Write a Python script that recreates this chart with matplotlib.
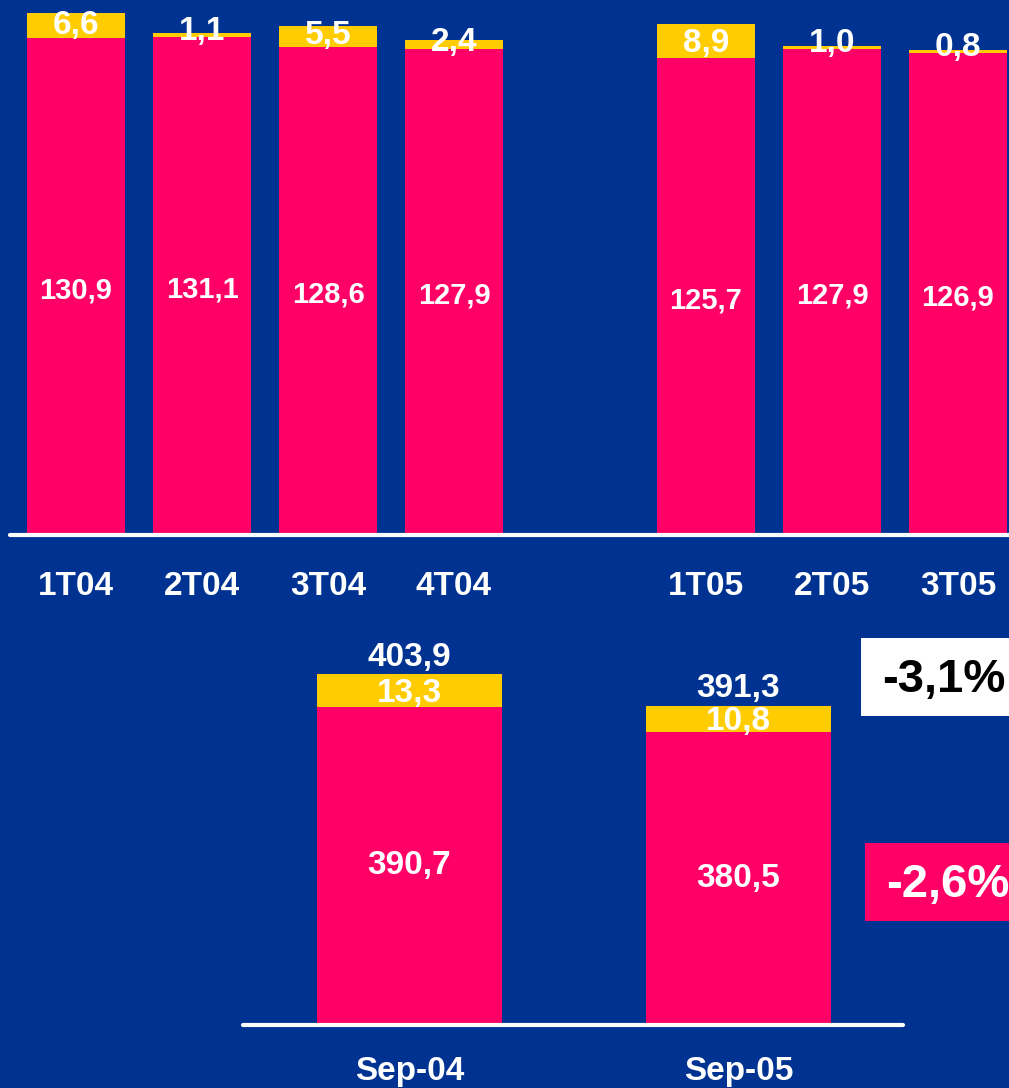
import matplotlib
matplotlib.use("Agg")
import matplotlib.pyplot as plt
from matplotlib.patches import Rectangle
import numpy as np

# ---- data ----
quarters = ["1T04", "2T04", "3T04", "4T04", "1T05", "2T05", "3T05"]
q_pink = [130.9, 131.1, 128.6, 127.9, 125.7, 127.9, 126.9]
q_yellow = [6.6, 1.1, 5.5, 2.4, 8.9, 1.0, 0.8]

periods = ["Sep-04", "Sep-05"]
p_pink = [390.7, 380.5]
p_yellow = [13.3, 10.8]
p_total = [403.9, 391.3]

BG = "#003391"
PINK = "#FF0066"
YELLOW = "#FFCC00"
FONT = "Liberation Sans"

W, H = 1009, 1088
fig = plt.figure(figsize=(W / 100, H / 100), dpi=100, facecolor=BG)

def fmt(v):
    return f"{v:.1f}".replace(".", ",")

def px_axes(left, top, right, bottom):
    return fig.add_axes([left / W, 1 - bottom / H, (right - left) / W, (bottom - top) / H])

# ---- top chart ----
ax1 = px_axes(10, 0, 1009, 535)
ax1.set_facecolor(BG)
pos1 = np.array([0, 1, 2, 3, 5, 6, 7])
ax1.bar(pos1, q_pink, width=0.78, color=PINK, linewidth=0)
ax1.bar(pos1, q_yellow, bottom=q_pink, width=0.78, color=YELLOW, linewidth=0)
ax1.set_xlim(-0.524, 7.405)
ax1.set_ylim(0, 535 / 3.797)
for x, p, y in zip(pos1, q_pink, q_yellow):
    ax1.text(x, p / 2 - 1.0, fmt(p), ha="center", va="center", color="white",
             fontsize=21, fontweight="bold", family=FONT)
    ax1.text(x, p + 1.2 + 0.3 * y, fmt(y), ha="center", va="center", color="white",
             fontsize=24, fontweight="bold", family=FONT)
ax1.set_xticks(pos1)
ax1.set_xticklabels(quarters, color="white", fontsize=24, fontweight="bold", family=FONT)
ax1.tick_params(axis="x", length=0, pad=26)
ax1.set_yticks([])
for s in ["top", "left", "right"]:
    ax1.spines[s].set_visible(False)
ax1.spines["bottom"].set_color("white")
ax1.spines["bottom"].set_linewidth(3)
ax1.spines["bottom"].set_capstyle("round")

# ---- bottom chart ----
ax2 = px_axes(243, 620, 903, 1025)
ax2.set_facecolor(BG)
pos2 = np.arange(len(periods))
ax2.bar(pos2, p_pink, width=0.56, color=PINK, linewidth=0)
ax2.bar(pos2, p_yellow, bottom=p_pink, width=0.56, color=YELLOW, linewidth=0)
ybot = 260.9
ax2.set_xlim(-0.506, 1.5)
ax2.set_ylim(ybot, ybot + (1025 - 620) / 2.45)
for x, p, y, t in zip(pos2, p_pink, p_yellow, p_total):
    ax2.text(x, (ybot + p) / 2, fmt(p), ha="center", va="center", color="white",
             fontsize=24, fontweight="bold", family=FONT)
    ax2.text(x, p + y / 2 - 1.2, fmt(y), ha="center", va="center", color="white",
             fontsize=24, fontweight="bold", family=FONT)
    ax2.annotate(fmt(t), (x, p + y), xytext=(0, 1), textcoords="offset points",
                 ha="center", va="bottom", color="white",
                 fontsize=24, fontweight="bold", family=FONT)
ax2.set_xticks(pos2)
ax2.set_xticklabels(periods, color="white", fontsize=24, fontweight="bold", family=FONT)
ax2.tick_params(axis="x", length=0, pad=22)
ax2.set_yticks([])
for s in ["top", "left", "right"]:
    ax2.spines[s].set_visible(False)
ax2.spines["bottom"].set_color("white")
ax2.spines["bottom"].set_linewidth(3)
ax2.spines["bottom"].set_capstyle("round")

# ---- change boxes ----
chg_total = (p_total[1] / p_total[0] - 1) * 100
chg_pink = (p_pink[1] / p_pink[0] - 1) * 100

def box(left, top, right, bottom, fc, text, tc):
    fig.patches.append(Rectangle((left / W, 1 - bottom / H), (right - left) / W,
                                 (bottom - top) / H, transform=fig.transFigure,
                                 facecolor=fc, edgecolor="none"))
    fig.text((left + 21) / W, 1 - ((top + bottom) / 2 + 3) / H, text, ha="left", va="center",
             color=tc, fontsize=34, fontweight="bold", family=FONT)

box(861, 638, 1012, 716, "white", fmt(chg_total) + "%", "black")
box(865, 843, 1012, 921, PINK, fmt(chg_pink) + "%", "white")

fig.savefig("out.png", dpi=100, facecolor=BG)
